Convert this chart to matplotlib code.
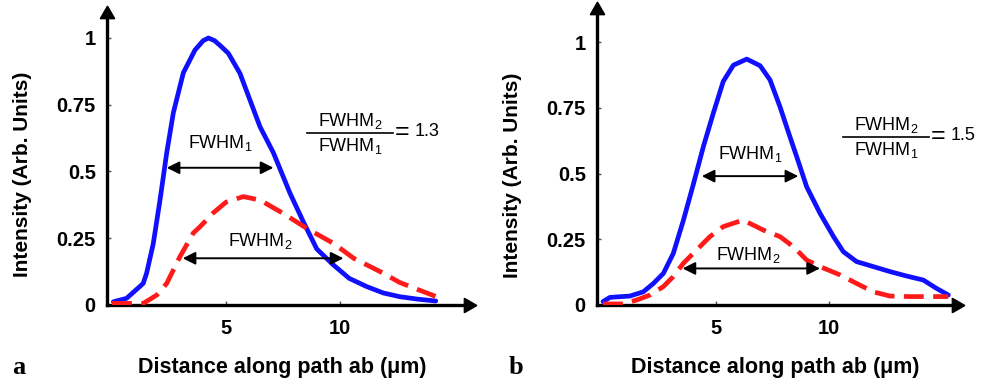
import matplotlib
matplotlib.use("Agg")
import matplotlib.pyplot as plt
from matplotlib.lines import Line2D

plt.rcParams['font.family'] = ['Liberation Sans', 'DejaVu Sans']
plt.rcParams['mathtext.fontset'] = 'custom'
plt.rcParams['mathtext.rm'] = 'Liberation Sans'
plt.rcParams['mathtext.it'] = 'Liberation Sans'
plt.rcParams['mathtext.bf'] = 'Liberation Sans:bold'

# ---------------- data (panel a) ----------------
a_blue_x = [0.06, 0.64, 1.23, 1.37, 1.52, 1.81, 2.1, 2.4, 2.69, 3.13, 3.64, 4.0, 4.23, 4.5,
            4.74, 5.1, 5.61, 6.05, 6.49, 7.08, 7.8, 8.4, 8.98, 9.71, 10.4, 11.17, 11.9,
            12.63, 13.4, 14.2]
a_blue_y = [0.012, 0.025, 0.07, 0.081, 0.12, 0.23, 0.39, 0.57, 0.72, 0.87, 0.955, 0.99, 1.0,
            0.99, 0.972, 0.943, 0.868, 0.768, 0.668, 0.57, 0.42, 0.31, 0.21, 0.15, 0.1,
            0.069, 0.045, 0.031, 0.022, 0.015]
a_red_x = [0.0, 1.37, 1.96, 2.4, 2.98, 3.57, 3.86, 4.44, 5.0, 5.76, 6.49, 7.51, 8.54, 9.71,
           10.6, 11.9, 12.6, 13.5, 14.24]
a_red_y = [0.006, 0.006, 0.037, 0.081, 0.181, 0.27, 0.293, 0.345, 0.385, 0.406, 0.393,
           0.343, 0.287, 0.231, 0.175, 0.119, 0.085, 0.055, 0.031]
a_fwhm1 = (2.4, 7.08, 0.514)
a_fwhm2 = (3.1, 10.15, 0.175)
a_ratio = "1.3"

# ---------------- data (panel b) ----------------
b_blue_x = [0.0, 0.31, 1.19, 1.78, 2.23, 2.67, 3.11, 3.56, 4.0, 4.44, 4.88, 5.32, 5.77,
            6.36, 6.95, 7.39, 7.83, 8.27, 8.57, 9.01, 9.6, 10.2, 10.63, 11.22, 11.96,
            12.7, 13.44, 14.17, 14.76, 15.28]
b_blue_y = [0.013, 0.029, 0.034, 0.05, 0.082, 0.12, 0.196, 0.323, 0.46, 0.602, 0.729,
            0.85, 0.912, 0.935, 0.91, 0.856, 0.754, 0.64, 0.564, 0.45, 0.349, 0.26,
            0.203, 0.165, 0.146, 0.127, 0.11, 0.095, 0.063, 0.038]
b_red_x = [0.0, 0.9, 1.49, 2.08, 2.67, 3.11, 3.55, 4.14, 4.73, 5.32, 6.2, 7.09, 7.83,
           8.42, 9.01, 9.6, 10.5, 11.22, 11.96, 12.7, 13.58, 14.47, 15.28]
b_red_y = [0.004, 0.004, 0.019, 0.038, 0.07, 0.108, 0.158, 0.209, 0.26, 0.298, 0.323,
           0.285, 0.26, 0.222, 0.171, 0.146, 0.114, 0.082, 0.05, 0.034, 0.032, 0.032, 0.032]
b_fwhm1 = (4.37, 8.64, 0.49)
b_fwhm2 = (3.52, 9.6, 0.139)
b_ratio = "1.5"

yticks = [0, 0.25, 0.5, 0.75, 1]
yticklabels = ["0", "0.25", "0.5", "0.75", "1"]
xticks = [5, 10]
xticklabels = ["5", "10"]

W, H = 989, 381
fig = plt.figure(figsize=(W / 100, H / 100), dpi=100)
fig.patch.set_facecolor('white')


def px_ax(l, r, b, t):
    return fig.add_axes([l / W, 1 - b / H, (r - l) / W, (b - t) / H])


def draw_panel(ax, xlim, ylim, bx, by, rx, ry, f1, f2, f1lab_y, f2lab_y, f1lab_x, f2lab_x):
    ax.set_xlim(*xlim)
    ax.set_ylim(*ylim)
    for s in ['top', 'right']:
        ax.spines[s].set_visible(False)
    for s in ['left', 'bottom']:
        ax.spines[s].set_linewidth(2.4)
        ax.spines[s].set_color('black')
    ax.plot(1.0, 0, marker=(3, 0, -90), color='black', markersize=12, transform=ax.transAxes,
            clip_on=False)
    ax.plot(0, 1.0, marker=(3, 0, 0), color='black', markersize=12, transform=ax.transAxes,
            clip_on=False)
    ax.plot(bx, by, color='#1010ff', lw=3.4, solid_capstyle='round',
            solid_joinstyle='round', zorder=3)
    ax.plot(rx, ry, color='#ff1a1a', lw=3.4, dashes=(4.2, 2.0), zorder=4)
    ax.set_yticks(yticks)
    ax.set_yticklabels(yticklabels, fontweight='bold', fontsize=14.5)
    ax.set_xticks(xticks)
    ax.set_xticklabels(xticklabels, fontweight='bold', fontsize=14.5)
    ax.tick_params(axis='both', direction='in', length=3, width=1, color='#555555')
    ax.tick_params(axis='y', pad=8)
    ax.tick_params(axis='x', pad=10)
    for (x1, x2, y) in (f1, f2):
        ax.annotate('', xy=(x1, y), xytext=(x2, y),
                    arrowprops=dict(arrowstyle='<|-|>', color='black', lw=1.4,
                                    mutation_scale=19, shrinkA=0, shrinkB=0), zorder=5)
    ax.text(f1lab_x, f1lab_y, r'FWHM$_\mathregular{1}$', ha='center', va='center', fontsize=13)
    ax.text(f2lab_x, f2lab_y, r'FWHM$_\mathregular{2}$', ha='center', va='center', fontsize=13)


# panel a: x0 at 112 px, 22.8 px/unit ; y0 at 305 px, 267 px/unit
ax1 = px_ax(112 - 0.22 * 22.8, 112 + 15.6 * 22.8, 305, 305 - 1.09 * 267)
draw_panel(ax1, (-0.22, 15.6), (0, 1.09), a_blue_x, a_blue_y, a_red_x, a_red_y,
           a_fwhm1, a_fwhm2, 0.605, 0.24, 4.74, 6.5)

# panel b: x0 at 603 px, 22.6 px/unit ; y0 at 305 px, 263 px/unit
ax2 = px_ax(603 - 0.27 * 22.6, 603 + 15.6 * 22.6, 305, 305 - 1.12 * 263)
draw_panel(ax2, (-0.27, 15.6), (0, 1.12), b_blue_x, b_blue_y, b_red_x, b_red_y,
           b_fwhm1, b_fwhm2, 0.574, 0.19, 6.5, 6.43)


def ftext(x, y, s, **kw):
    fig.text(x / W, 1 - y / H, s, **kw)


def fraction(xl, xr, y, ratio):
    fig.add_artist(Line2D([xl / W, xr / W], [1 - y / H, 1 - y / H], color='black', lw=1.2))
    xc = (xl + xr) / 2
    ftext(xc, y - 12, r'FWHM$_\mathregular{2}$', ha='center', va='center', fontsize=13)
    ftext(xc, y + 13, r'FWHM$_\mathregular{1}$', ha='center', va='center', fontsize=13)
    ftext(xr + 2, y - 1, '=', ha='left', va='center', fontsize=18)
    ftext(xr + 22, y - 2, ratio, ha='left', va='center', fontsize=13)


fraction(307, 393, 133, a_ratio)
fraction(843, 929, 137, b_ratio)

# axis titles
xlabel = 'Distance along path ab (\u03bcm)'
ylabel = 'Intensity (Arb. Units)'
ftext(282, 368, xlabel, ha='center', va='center', fontsize=15.5, fontweight='bold')
ftext(775, 368, xlabel, ha='center', va='center', fontsize=15.5, fontweight='bold')
ftext(23, 174, ylabel, ha='center', va='center', fontsize=15, fontweight='bold', rotation=90)
ftext(513, 175, ylabel, ha='center', va='center', fontsize=15, fontweight='bold', rotation=90)
ftext(19, 368, 'a', ha='center', va='center', fontsize=19, fontweight='bold',
      family=['Liberation Serif', 'DejaVu Serif'])
ftext(516, 368, 'b', ha='center', va='center', fontsize=19, fontweight='bold',
      family=['Liberation Serif', 'DejaVu Serif'])

fig.savefig('out.png', dpi=100, facecolor='white')
